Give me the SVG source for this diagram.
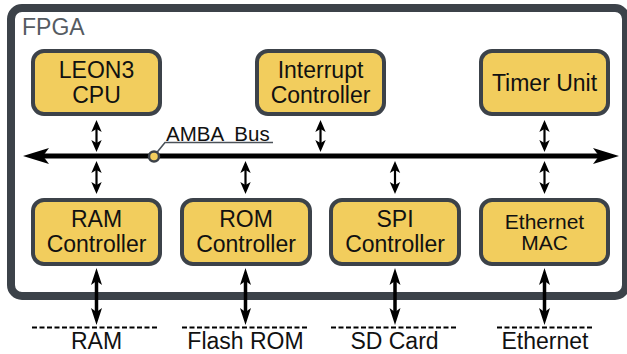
<svg xmlns="http://www.w3.org/2000/svg" width="627" height="354" viewBox="0 0 627 354">
<style>
.box{fill:#f2cd5d;stroke:#3c4249;stroke-width:4}
.t{font-family:"Liberation Sans",Arial,Helvetica,sans-serif;font-size:23px;fill:#111;text-anchor:middle}
.ts{font-size:21px}
.sm{stroke:#000;stroke-width:2.2;fill:none;marker-start:url(#hs);marker-end:url(#hs)}
.bg{stroke:#000;stroke-width:3.5;fill:none;marker-start:url(#hb);marker-end:url(#hb)}
.dash{stroke:#000;stroke-width:2;stroke-dasharray:5 2.5}
</style>
<defs>
<marker id="hs" markerUnits="userSpaceOnUse" orient="auto-start-reverse" refX="0" refY="0" markerWidth="30" markerHeight="30" overflow="visible"><path d="M-3,-5.2 L9,0 L-3,5.2 L0,0 Z" fill="#000"/></marker>
<marker id="hb" markerUnits="userSpaceOnUse" orient="auto-start-reverse" refX="0" refY="0" markerWidth="40" markerHeight="40" overflow="visible"><path d="M-4,-5.5 L13,0 L-4,5.5 L0,0 Z" fill="#000"/></marker>
<marker id="hbus" markerUnits="userSpaceOnUse" orient="auto-start-reverse" refX="0" refY="0" markerWidth="60" markerHeight="60" overflow="visible"><path d="M-6,-8 L20,0 L-6,8 L0,0 Z" fill="#000"/></marker>
</defs>
<rect width="627" height="354" fill="#fff"/>
<g id="fpga">
<rect x="11" y="8" width="615" height="288" rx="11" fill="#fff" stroke="#3c4249" stroke-width="8"/>
<text x="22" y="35" font-family="'Liberation Sans',Arial,sans-serif" font-size="23" fill="#555b62">FPGA</text>
</g>
<g id="connectors">
<line x1="43" y1="156" x2="599" y2="156" stroke="#000" stroke-width="5" marker-start="url(#hbus)" marker-end="url(#hbus)"/>
<line class="sm" x1="96.5" y1="129" x2="96.5" y2="143"/>
<line class="sm" x1="320.5" y1="129" x2="320.5" y2="143"/>
<line class="sm" x1="544.5" y1="129" x2="544.5" y2="143"/>
<line class="sm" x1="96.5" y1="170" x2="96.5" y2="185"/>
<line class="sm" x1="245.5" y1="170" x2="245.5" y2="185"/>
<line class="sm" x1="395" y1="170" x2="395" y2="185"/>
<line class="sm" x1="544.5" y1="170" x2="544.5" y2="185"/>
<line class="bg" x1="96.5" y1="281" x2="96.5" y2="312"/>
<line class="bg" x1="245.5" y1="281" x2="245.5" y2="312"/>
<line class="bg" x1="395" y1="281" x2="395" y2="312"/>
<line class="bg" x1="544.5" y1="281" x2="544.5" y2="312"/>
</g>
<g id="amba-label">
<polyline points="154,156 165,142.5 273,142.5" fill="none" stroke="#4b5259" stroke-width="1.6"/>
<circle cx="154" cy="156.5" r="5" fill="#f2cd5d" stroke="#3c4249" stroke-width="2.5"/>
<text x="166" y="140.5" font-family="'Liberation Sans',Arial,sans-serif" font-size="20.5" fill="#111" xml:space="preserve" style="white-space:pre">AMBA  Bus</text>
</g>
<g id="leon3">
<rect class="box" x="33" y="51" width="127" height="63" rx="11"/>
<text class="t" x="96.5" y="78">LEON3</text>
<text class="t" x="96.5" y="103">CPU</text>
</g>
<g id="interrupt">
<rect class="box" x="257" y="51" width="127" height="63" rx="11"/>
<text class="t" x="320.5" y="78">Interrupt</text>
<text class="t" x="320.5" y="103">Controller</text>
</g>
<g id="timer">
<rect class="box" x="481" y="51" width="127" height="63" rx="11"/>
<text class="t" x="544.5" y="90.5">Timer Unit</text>
</g>
<g id="ramctrl">
<rect class="box" x="33" y="200" width="127" height="64" rx="11"/>
<text class="t" x="96.5" y="227">RAM</text>
<text class="t" x="96.5" y="252">Controller</text>
</g>
<g id="romctrl">
<rect class="box" x="182" y="200" width="128" height="64" rx="11"/>
<text class="t" x="246" y="227">ROM</text>
<text class="t" x="246" y="252">Controller</text>
</g>
<g id="spictrl">
<rect class="box" x="331" y="200" width="128" height="64" rx="11"/>
<text class="t" x="395" y="227">SPI</text>
<text class="t" x="395" y="252">Controller</text>
</g>
<g id="ethmac">
<rect class="box" x="481" y="200" width="127" height="64" rx="11"/>
<text class="t ts" x="544.5" y="228.5">Ethernet</text>
<text class="t ts" x="544.5" y="250">MAC</text>
</g>
<g id="ram">
<line class="dash" x1="32" y1="327.5" x2="158" y2="327.5"/>
<text class="t" x="96.5" y="349">RAM</text>
</g>
<g id="flashrom">
<line class="dash" x1="182" y1="327.5" x2="308" y2="327.5"/>
<text class="t" x="245.5" y="349">Flash ROM</text>
</g>
<g id="sdcard">
<line class="dash" x1="331" y1="327.5" x2="457" y2="327.5"/>
<text class="t" x="394.5" y="349">SD Card</text>
</g>
<g id="ethernet">
<line class="dash" x1="497" y1="327.5" x2="593" y2="327.5"/>
<text class="t" x="545" y="349">Ethernet</text>
</g>
</svg>
